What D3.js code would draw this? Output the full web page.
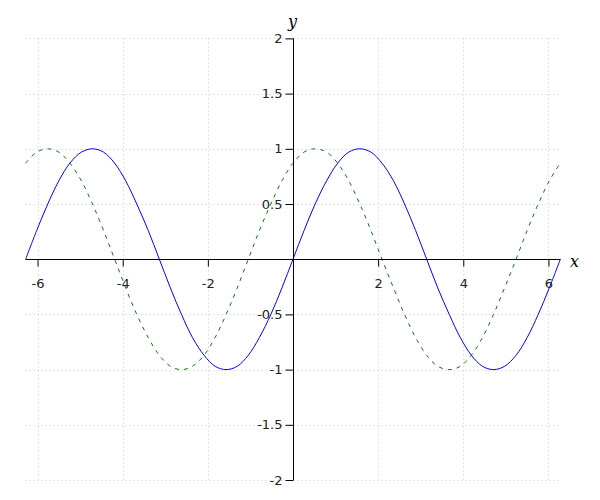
<!DOCTYPE html>
<html>
<head>
<meta charset="utf-8">
<script src="https://cdn.jsdelivr.net/npm/d3@7"></script>
<style>
  html, body { margin: 0; padding: 0; background: #fff; }
  svg { display: block; }
</style>
</head>
<body>
<svg id="chart" width="600" height="500"></svg>
<script>
// Sample positions along x
const xValues = [-6.28, -6.02, -5.76, -5.50, -5.24, -4.97, -4.71, -4.45, -4.19, -3.93, -3.67, -3.40,
  -3.14, -2.88, -2.62, -2.36, -2.09, -1.83, -1.57, -1.31, -1.05, -0.79, -0.52, -0.26,
  0, 0.26, 0.52, 0.79, 1.05, 1.31, 1.57, 1.83, 2.09, 2.36, 2.62, 2.88,
  3.14, 3.40, 3.67, 3.93, 4.19, 4.45, 4.71, 4.97, 5.24, 5.50, 5.76, 6.02, 6.28];
// Solid blue curve
const blueValues = [0, 0.26, 0.5, 0.71, 0.87, 0.97, 1, 0.97, 0.87, 0.71, 0.5, 0.26,
  0, -0.26, -0.5, -0.71, -0.87, -0.97, -1, -0.97, -0.87, -0.71, -0.5, -0.26,
  0, 0.26, 0.5, 0.71, 0.87, 0.97, 1, 0.97, 0.87, 0.71, 0.5, 0.26,
  0, -0.26, -0.5, -0.71, -0.87, -0.97, -1, -0.97, -0.87, -0.71, -0.5, -0.26, 0];
// Dashed green curve
const greenValues = [0.87, 0.97, 1, 0.97, 0.87, 0.71, 0.5, 0.26, 0, -0.26, -0.5, -0.71,
  -0.87, -0.97, -1, -0.97, -0.87, -0.71, -0.5, -0.26, 0, 0.26, 0.5, 0.71,
  0.87, 0.97, 1, 0.97, 0.87, 0.71, 0.5, 0.26, 0, -0.26, -0.5, -0.71,
  -0.87, -0.97, -1, -0.97, -0.87, -0.71, -0.5, -0.26, 0, 0.26, 0.5, 0.71, 0.87];
const xTicks = [-6, -4, -2, 2, 4, 6];
const yTicks = [-2, -1.5, -1, -0.5, 0.5, 1, 1.5, 2];
const xDomain = [-6.2832, 6.2832];
const yDomain = [-2, 2];

const svg = d3.select("#chart");
const x = d3.scaleLinear().domain(xDomain).range([25.5, 560.5]);
const y = d3.scaleLinear().domain(yDomain).range([480, 38.4]);

const fontTick = "'DejaVu Sans', sans-serif";

// Grid
const grid = svg.append("g").attr("stroke", "#c8c8c8").attr("stroke-width", 1)
  .attr("stroke-dasharray", "1,3");
grid.selectAll("line.h").data(yTicks).join("line")
  .attr("x1", x(xDomain[0])).attr("x2", x(xDomain[1]))
  .attr("y1", d => Math.round(y(d)) + 0.5).attr("y2", d => Math.round(y(d)) + 0.5);
grid.selectAll("line.v").data(xTicks).join("line")
  .attr("y1", y(2)).attr("y2", y(-2))
  .attr("x1", d => Math.round(x(d)) + 0.5).attr("x2", d => Math.round(x(d)) + 0.5);

// Curves
const line = d3.line().x(d => x(d[0])).y(d => y(d[1])).curve(d3.curveCatmullRom.alpha(0.5));
svg.append("path").datum(xValues.map((v, i) => [v, greenValues[i]]))
  .attr("d", line).attr("fill", "none").attr("stroke", "#117711")
  .attr("stroke-width", 1).attr("stroke-dasharray", "4,5");
svg.append("path").datum(xValues.map((v, i) => [v, blueValues[i]]))
  .attr("d", line).attr("fill", "none").attr("stroke", "#0000ff")
  .attr("stroke-width", 1);

// Axes
const x0 = Math.round(x(0)) + 0.5;
const y0 = Math.round(y(0)) + 0.5;
const xAxis = d3.axisBottom(x).tickValues(xTicks).tickSize(7).tickPadding(12)
  .tickFormat(d => String(d));
const gx = svg.append("g").attr("transform", `translate(0,${y0})`).call(xAxis);
gx.select(".domain").attr("d", `M${x(xDomain[0])},0H${x(xDomain[1])}`);

const yAxis = d3.axisLeft(y).tickValues(yTicks).tickSize(8).tickPadding(3)
  .tickFormat(d => String(d));
const gy = svg.append("g").attr("transform", `translate(${x0},0)`).call(yAxis);
gy.select(".domain").attr("d", `M0,${y(2)}V${y(-2)}`);

svg.selectAll(".tick text").attr("font-family", fontTick).attr("font-size", 13).attr("fill", "#222");
svg.selectAll(".domain, .tick line").attr("stroke", "#000");

// Axis labels
svg.append("text").attr("x", 570).attr("y", 267).text("x")
  .attr("font-family", "'DejaVu Serif', serif").attr("font-style", "italic").attr("font-size", 16);
svg.append("text").attr("x", 288).attr("y", 27).text("y")
  .attr("font-family", "'DejaVu Serif', serif").attr("font-style", "italic").attr("font-size", 16);
</script>
</body>
</html>
